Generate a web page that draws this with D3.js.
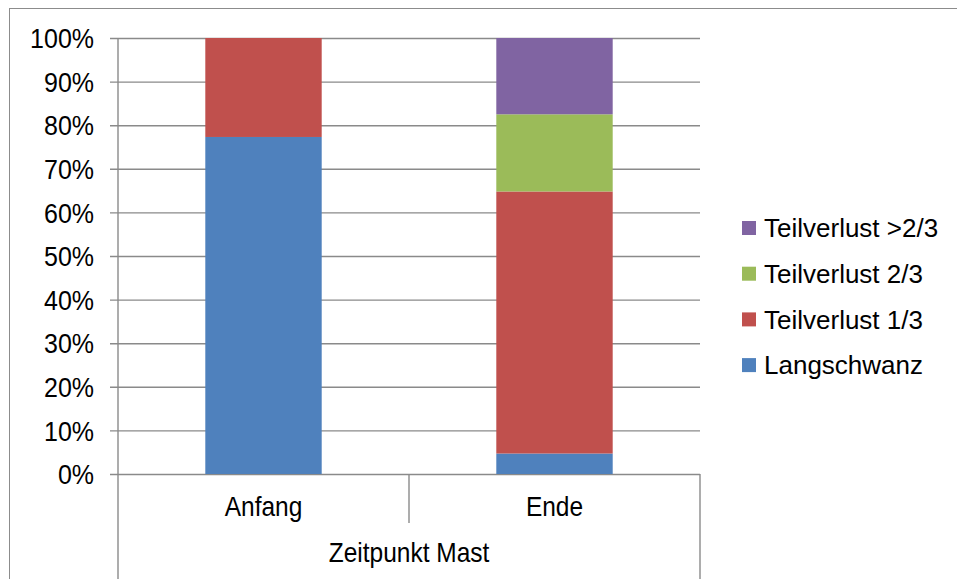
<!DOCTYPE html>
<html>
<head>
<meta charset="utf-8">
<script src="https://cdn.jsdelivr.net/npm/d3@7"></script>
<style>
  html, body { margin: 0; padding: 0; background: #fff; }
  svg { display: block; font-family: "Liberation Sans", Arial, sans-serif; }
</style>
</head>
<body>
<svg id="chart" width="957" height="579"></svg>
<script>
// Categories on the x axis and the group label below them
const categories = ["Anfang", "Ende"];
const groupLabel = "Zeitpunkt Mast";

// Series shares in percent, one value per category
const langschwanz   = [77.3, 4.7];
const teilverlust13 = [22.7, 60.1];
const teilverlust23 = [0, 17.7];
const teilverlustGt = [0, 17.5];

const seriesNames  = ["Langschwanz", "Teilverlust 1/3", "Teilverlust 2/3", "Teilverlust >2/3"];
const seriesColors = ["#4f81bd", "#c0504d", "#9bbb59", "#8064a2"];

const yTicks = [0, 10, 20, 30, 40, 50, 60, 70, 80, 90, 100];

// Build rows for d3.stack
const seriesValues = [langschwanz, teilverlust13, teilverlust23, teilverlustGt];
const rows = categories.map((c, i) => {
  const r = { category: c };
  seriesNames.forEach((s, k) => { r[s] = seriesValues[k][i]; });
  return r;
});
const stacked = d3.stack().keys(seriesNames)(rows);

const svg = d3.select("#chart");
const plot = { left: 118, right: 700, top: 38, bottom: 474 };
const gridColor = "#8a8a8a";

// Outer chart frame
svg.append("rect")
  .attr("x", 9.5).attr("y", 8.5)
  .attr("width", 960).attr("height", 600)
  .attr("fill", "none").attr("stroke", "#8c8c8c").attr("stroke-width", 1);

const x = d3.scaleBand()
  .domain(categories)
  .range([plot.left, plot.right])
  .paddingInner(0.6)
  .paddingOuter(0.3);

const y = d3.scaleLinear().domain([0, 100]).range([plot.bottom, plot.top]);

// Horizontal gridlines with outward ticks
const yAxis = d3.axisLeft(y)
  .tickValues(yTicks)
  .tickSize(-(plot.right - plot.left))
  .tickFormat(d => d + "%");
const gy = svg.append("g")
  .attr("transform", `translate(${plot.left},0)`)
  .call(yAxis);
gy.select(".domain").remove();
gy.selectAll(".tick line")
  .attr("x1", -8)
  .attr("stroke", gridColor).attr("stroke-width", 1.4);
gy.selectAll(".tick text")
  .attr("x", 0)
  .attr("transform", "translate(-24,0) scale(1,1.08)")
  .attr("dy", "0.36em")
  .attr("fill", "#000")
  .style("font-size", "25px");

// Stacked bars
svg.append("g").selectAll("g")
  .data(stacked)
  .join("g")
  .attr("fill", (d, i) => seriesColors[i])
  .selectAll("rect")
  .data(d => d)
  .join("rect")
  .attr("x", d => x(d.data.category))
  .attr("width", x.bandwidth())
  .attr("y", d => y(d[1]))
  .attr("height", d => y(d[0]) - y(d[1]));

// Vertical axis line
svg.append("line")
  .attr("x1", plot.left).attr("x2", plot.left)
  .attr("y1", plot.top).attr("y2", plot.bottom)
  .attr("stroke", gridColor).attr("stroke-width", 1.4);

// Category separators below the axis
const step = x.step();
const boundaries = d3.range(categories.length + 1).map(i => plot.left + i * step);
svg.append("g").selectAll("line")
  .data(boundaries)
  .join("line")
  .attr("x1", d => d).attr("x2", d => d)
  .attr("y1", plot.bottom)
  .attr("y2", (d, i) => (i === 0 || i === categories.length) ? 579 : plot.bottom + 49)
  .attr("stroke", gridColor).attr("stroke-width", 1.4);

// Category labels
svg.append("g").selectAll("text")
  .data(categories)
  .join("text")
  .attr("transform", d => `translate(${x(d) + x.bandwidth() / 2},515.5) scale(1,1.1)`)
  .attr("text-anchor", "middle")
  .style("font-size", "24.5px")
  .text(d => d);

// Group label
svg.append("text")
  .attr("transform", `translate(${(plot.left + plot.right) / 2},562) scale(1,1.1)`)
  .attr("text-anchor", "middle")
  .style("font-size", "24.5px")
  .text(groupLabel);

// Legend, top entry is the last series
const legendOrder = seriesNames.map((s, i) => i).reverse();
const legend = svg.append("g").selectAll("g")
  .data(legendOrder)
  .join("g")
  .attr("transform", (d, i) => `translate(742,${228 + i * 45.7})`);
legend.append("rect")
  .attr("x", 0).attr("y", -7)
  .attr("width", 14).attr("height", 14)
  .attr("fill", d => seriesColors[d]);
legend.append("text")
  .attr("x", 22).attr("y", 0)
  .attr("dy", "0.36em")
  .style("font-size", "26px")
  .text(d => seriesNames[d]);
</script>
</body>
</html>
